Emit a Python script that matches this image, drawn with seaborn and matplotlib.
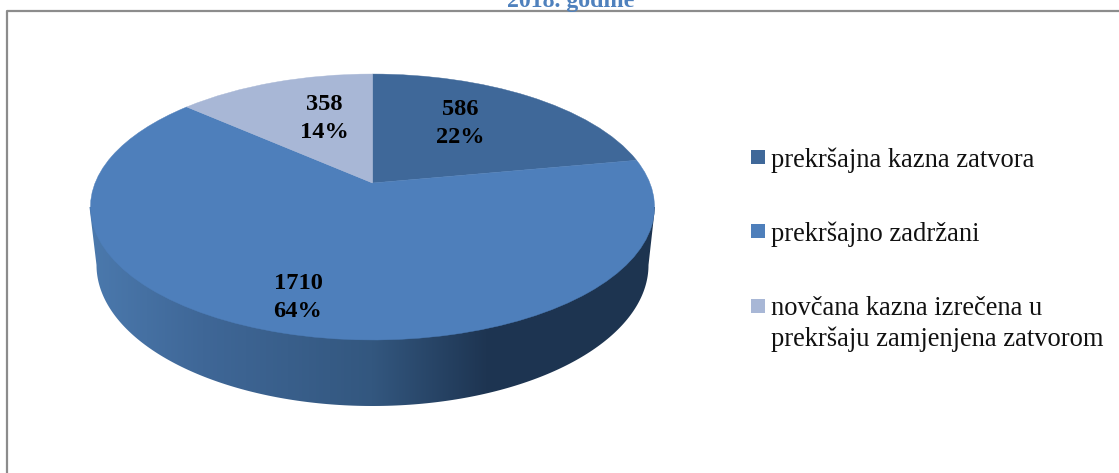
import numpy as np
import matplotlib
matplotlib.use("Agg")
import matplotlib.pyplot as plt
import seaborn as sns
from matplotlib.colors import LinearSegmentedColormap
from matplotlib.patches import Polygon, Rectangle
from matplotlib.transforms import Transform

# Data
categories = ["prekršajna kazna zatvora", "prekršajno zadržani",
              "novčana kazna izrečena u\nprekršaju zamjenjena zatvorom"]
counts = [586, 1710, 358]
percents = [22, 64, 14]
title = "2018. godine"

colors = ["#3f6899", "#4e7fbb", "#a8b7d6"]
side_colors = ["#4b79ad", "#3f6797", "#33577f", "#1e3552", "#1d3450"]

sns.set_theme(style="white")
plt.rcParams["font.family"] = ["Liberation Serif", "DejaVu Serif"]


# Tilts the flat pie the way the 3D chart does (result in image pixels)
class TiltPie(Transform):
    input_dims = 2
    output_dims = 2
    is_affine = False

    def transform_non_affine(self, values):
        values = np.asarray(values, dtype=float)
        u, v = values[:, 0], values[:, 1]
        w = 1 + 0.1805 * v
        return np.column_stack([372.5 + 277.4 * u / w, (183 - 95.6 * v) / w])


fig, ax = plt.subplots(figsize=(11.19, 4.73), dpi=100)
fig.subplots_adjust(left=0, right=1, bottom=0, top=1)

wedges, _ = ax.pie(counts, colors=colors, startangle=90, counterclock=False, radius=1)
for wedge, color in zip(wedges, colors):
    wedge.set_transform(TiltPie() + ax.transData)
    wedge.set_edgecolor(color)
    wedge.set_linewidth(0.3)
    wedge.set_zorder(3)

ax.set_aspect("auto")
ax.axis("off")

# Side wall of the pie, lower rim is a slightly narrower ellipse
t = np.linspace(0, np.pi, 200)
rim_x = 372.5 + 276 * np.cos(t)
rim_y = 265 + 141 * np.sin(t)
wall = np.column_stack([np.r_[655, rim_x, 89.5], np.r_[207, rim_y, 207]])
wall_patch = Polygon(wall, closed=True, facecolor="none", edgecolor="none",
                     transform=ax.transData)
ax.add_patch(wall_patch)
cmap = LinearSegmentedColormap.from_list(
    "wall", list(zip([0, 0.2, 0.5, 0.7, 1], side_colors)))
img = ax.imshow(np.linspace(0, 1, 256)[None, :], cmap=cmap, aspect="auto",
                extent=(89, 656, 410, 200), zorder=2)
img.set_clip_path(wall_patch)

# Chart border, only the top and left edges are in the crop
ax.plot([6.5, 6.5, 1119], [473, 11, 11], color="#8c8c8c", linewidth=1.6, zorder=1)
ax.set_xlim(0, 1119)
ax.set_ylim(473, 0)

ax.text(570.5, 7, title, color="#4f81bd", fontsize=17.2, fontweight="bold",
        ha="center", va="baseline", zorder=5)

# Data labels
label_pos = [(460, 123.5), (298, 297.5), (324, 118.5)]
for (x, y), count, pct in zip(label_pos, counts, percents):
    ax.text(x, y, f"{count}\n{pct}%", ha="center", va="center", fontsize=17.6,
            fontweight="bold", color="black", linespacing=1.42, zorder=5)

# Legend
legend_y = [157, 231, 306]
for y, label, color in zip(legend_y, categories, colors):
    ax.add_patch(Rectangle((751, y - 7), 14, 14, facecolor=color, edgecolor="none", zorder=5))
    ax.text(771, y - 10, label, ha="left", va="top", fontsize=19.1, color="#111111",
            linespacing=1.3, zorder=5)

fig.savefig("out.png", dpi=100)
